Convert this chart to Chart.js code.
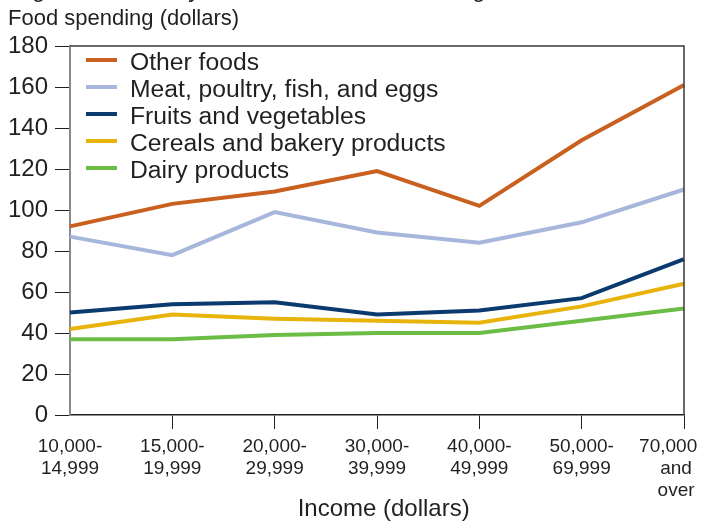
<!DOCTYPE html>
<html><head><meta charset="utf-8">
<script src="https://cdn.jsdelivr.net/npm/chart.js@4"></script>
<style>
html,body{margin:0;padding:0;background:#fff;}
#wrap{position:relative;width:705px;height:521px;overflow:hidden;background:#fff;}
canvas{position:absolute;left:0;top:0;}
.t{position:absolute;font-family:"Liberation Sans",Arial,sans-serif;color:#231f20;white-space:nowrap;}
</style></head><body>
<div id="wrap">
<canvas id="c" width="705" height="521"></canvas>
<div class="t" style="left:4px;top:-23px;font-size:24px;line-height:24px;">Vegetables steady across most income categories</div>
<div class="t" style="left:8px;top:7px;font-size:22px;line-height:22px;">Food spending (dollars)</div>
</div>
<script>
const NB = '\u00a0';
const categories = [['10,000-','14,999'],['15,000-','19,999'],['20,000-','29,999'],['30,000-','39,999'],['40,000-','49,999'],['50,000-','69,999'],['70,000' + NB.repeat(6),'and' + NB.repeat(3),'over' + NB.repeat(3)]];
const seriesLabels = ['Other foods','Meat, poultry, fish, and eggs','Fruits and vegetables','Cereals and bakery products','Dairy products'];
const otherFoods = [92,103,109,119,102,134,161];
const meatPoultry = [87,78,99,89,84,94,110];
const fruitsVeg = [50,54,55,49,51,57,76];
const cerealsBakery = [42,49,47,46,45,53,64];
const dairy = [37,37,39,40,40,46,52];
const yMin = 0, yMax = 180, yStep = 20;

const colors = ['#c9601f','#a7b6db','#0b3a6f','#e8b40c','#6bbd45'];
const seriesData = [otherFoods, meatPoultry, fruitsVeg, cerealsBakery, dairy];
const FONT = '"Liberation Sans", Arial, sans-serif';
const INK = '#231f20';

const frame = {
  id:'frame',
  afterDraw(chart){
    const {ctx, chartArea:a} = chart;
    ctx.save();
    ctx.strokeStyle = '#3a3a3a';
    ctx.lineWidth = 1.5;
    ctx.beginPath();
    ctx.moveTo(a.left, a.top);
    ctx.lineTo(a.right, a.top);
    ctx.lineTo(a.right, a.bottom);
    ctx.stroke();
    ctx.restore();
  }
};
const legendPlugin = {
  id:'legendIn',
  afterDraw(chart){
    const ctx = chart.ctx;
    ctx.save();
    chart.data.datasets.forEach((ds,i)=>{
      const y = 60 + 27*i;
      ctx.strokeStyle = ds.borderColor;
      ctx.lineWidth = 4;
      ctx.beginPath();
      ctx.moveTo(86,y); ctx.lineTo(117,y);
      ctx.stroke();
      ctx.fillStyle = INK;
      ctx.font = '24.7px ' + FONT;
      ctx.textBaseline = 'middle';
      ctx.textAlign = 'left';
      ctx.fillText(ds.label, 130, y+3);
    });
    ctx.restore();
  }
};

new Chart(document.getElementById('c'), {
  type:'line',
  data:{
    labels: categories,
    datasets: seriesLabels.map((l,i)=>({
      label:l, data:seriesData[i], borderColor:colors[i], backgroundColor:colors[i],
      borderWidth:4, pointRadius:0, tension:0, fill:false, clip:false
    }))
  },
  options:{
    responsive:false, animation:false, devicePixelRatio:1,
    layout:{padding:{left:0, right:21, top:46, bottom:0}},
    plugins:{legend:{display:false}, tooltip:{enabled:false}},
    scales:{
      x:{
        type:'category', offset:false,
        grid:{display:true, drawOnChartArea:false, drawTicks:true, tickLength:14,
          color:(c)=> c.index===0 ? 'rgba(0,0,0,0)' : INK, lineWidth:1},
        border:{display:true, color:INK, width:1.5},
        ticks:{font:{size:19, family:FONT, lineHeight:1.16}, color:INK, padding:7, maxRotation:0, minRotation:0, autoSkip:false},
        title:{display:true, text:NB + NB + 'Income (dollars)', color:INK, font:{size:24, family:FONT, lineHeight:1.0}, padding:{top:0,bottom:0}},
        afterFit(s){ s.height = 106; s.paddingLeft = 0; s.paddingRight = 0; }
      },
      y:{
        min:yMin, max:yMax,
        grid:{display:true, drawOnChartArea:false, drawTicks:true, tickLength:15, color:INK, lineWidth:1},
        border:{display:true, color:'#8a8a8a', width:2},
        ticks:{stepSize:yStep, font:{size:24, family:FONT}, color:INK, padding:7},
        afterFit(s){ s.width = 70; s.paddingTop = 0; s.paddingBottom = 0; }
      }
    }
  },
  plugins:[frame, legendPlugin]
});
</script>
</body></html>
